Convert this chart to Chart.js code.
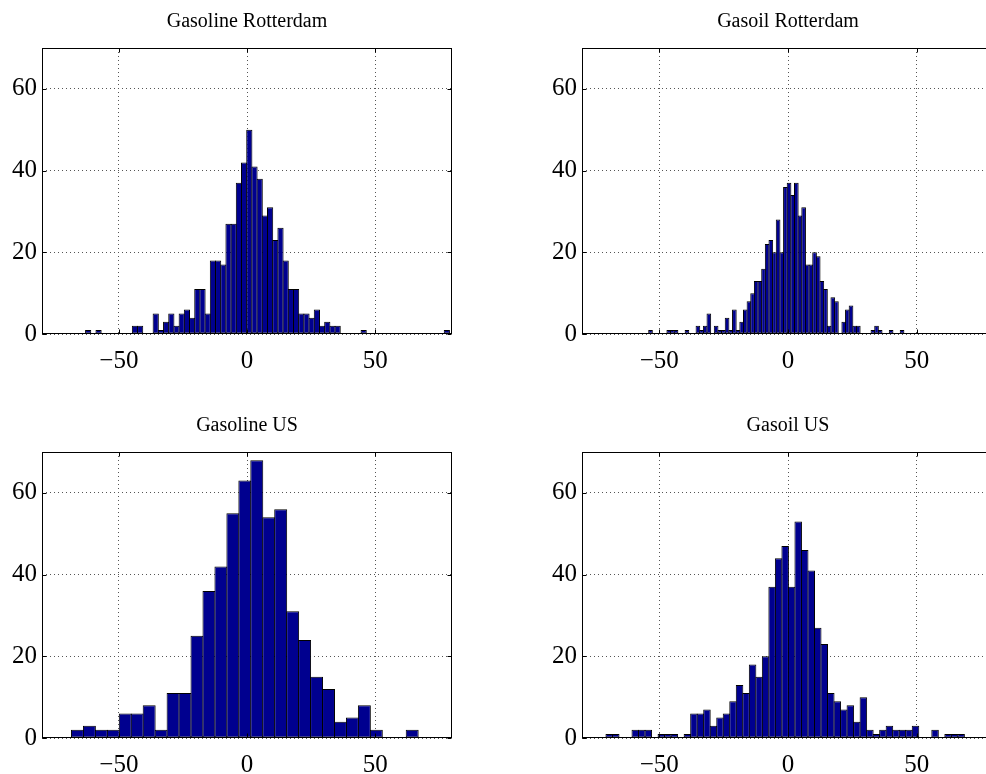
<!DOCTYPE html>
<html>
<head>
<meta charset="utf-8">
<title>Price change histograms</title>
<script src="https://cdn.jsdelivr.net/npm/chart.js@4.4.0/dist/chart.umd.min.js"></script>
<style>
    html, body { margin: 0; padding: 0; background: #fff; overflow: hidden; width: 986px; height: 774px; position: relative; }
    canvas { position: absolute; }
</style>
</head>
<body>
<canvas id="gasolineRot" width="494" height="390" style="left:0px;top:0px;width:494px;height:390px"></canvas>
<canvas id="gasoilRot" width="496" height="390" style="left:540px;top:0px;width:496px;height:390px"></canvas>
<canvas id="gasolineUS" width="494" height="390" style="left:0px;top:404px;width:494px;height:390px"></canvas>
<canvas id="gasoilUS" width="496" height="390" style="left:540px;top:404px;width:496px;height:390px"></canvas>
<script>
// ===== DATA =====
const xTicks = [-50, 0, 50];
const yTicks = [0, 20, 40, 60];
const xRange = [-80, 80];
const yRange = [0, 70];

// Gasoline Rotterdam: 70 bins
const gasolineRotTitle = 'Gasoline Rotterdam';
const gasolineRotEdges = [-63.0, 79.0];
const gasolineRotCounts = [
    1, 0, 1, 0, 0, 0, 0, 0, 0, 2,
    2, 0, 0, 5, 1, 3, 5, 2, 5, 6,
    4, 11, 11, 5, 18, 18, 17, 27, 27, 37,
    42, 50, 41, 38, 29, 31, 23, 26, 18, 11,
    11, 5, 5, 4, 6, 2, 3, 2, 2, 0,
    0, 0, 0, 1, 0, 0, 0, 0, 0, 0,
    0, 0, 0, 0, 0, 0, 0, 0, 0, 1
];

// Gasoil Rotterdam: 70 bins
const gasoilRotTitle = 'Gasoil Rotterdam';
const gasoilRotEdges = [-54.1, 45.0];
const gasoilRotCounts = [
    1, 0, 0, 0, 0, 1, 1, 1, 0, 0,
    1, 0, 0, 2, 1, 2, 5, 0, 2, 1,
    1, 4, 1, 6, 1, 3, 6, 8, 10, 13,
    13, 16, 22, 23, 20, 28, 20, 36, 37, 34,
    37, 29, 31, 17, 17, 20, 19, 13, 11, 2,
    9, 8, 0, 3, 6, 7, 2, 2, 0, 0,
    0, 1, 2, 1, 0, 0, 1, 0, 0, 1
];

// Gasoline US: 29 bins
const gasolineUSTitle = 'Gasoline US';
const gasolineUSEdges = [-68.5, 66.8];
const gasolineUSCounts = [
    2, 3, 2, 2, 6, 6, 8, 2, 11, 11,
    25, 36, 42, 55, 63, 68, 54, 56, 31, 24,
    15, 12, 4, 5, 8, 2, 0, 0, 2
];

// Gasoil US: 55 bins
const gasoilUSTitle = 'Gasoil US';
const gasoilUSEdges = [-70.7, 68.5];
const gasoilUSCounts = [
    1, 1, 0, 0, 2, 2, 2, 0, 1, 1,
    1, 0, 1, 6, 6, 7, 3, 5, 6, 9,
    13, 11, 18, 15, 20, 37, 44, 47, 37, 53,
    46, 41, 27, 23, 11, 9, 7, 8, 4, 10,
    2, 1, 2, 3, 2, 2, 2, 3, 0, 0,
    2, 0, 1, 1, 1
];

// ===== STYLE =====
const FONT = "'Liberation Serif', 'Times New Roman', Times, serif";
const BAR_FILL = '#00008F';
const GRID_COLOR = '#555';

// MATLAB-like box with inward tick marks
const axesBoxPlugin = {
    id: 'axesBox',
    afterDraw(chart) {
        const { ctx, chartArea: a, scales } = chart;
        const L = Math.round(a.left) + 0.5, R = Math.round(a.right) - 0.5;
        const T = Math.round(a.top) + 0.5, B = Math.round(a.bottom) - 0.5;
        const len = 4;
        ctx.save();
        ctx.strokeStyle = '#000';
        ctx.lineWidth = 1;
        ctx.strokeRect(L, T, R - L, B - T);
        ctx.beginPath();
        xTicks.forEach(v => {
            const x = Math.round(scales.x.getPixelForValue(v)) + 0.5;
            ctx.moveTo(x, B); ctx.lineTo(x, B - len);
            ctx.moveTo(x, T); ctx.lineTo(x, T + len);
        });
        yTicks.forEach(v => {
            const y = Math.round(scales.y.getPixelForValue(v)) + 0.5;
            ctx.moveTo(L, y); ctx.lineTo(L + len, y);
            ctx.moveTo(R, y); ctx.lineTo(R - len, y);
        });
        ctx.stroke();
        ctx.restore();
    }
};

function tickLabel(v) {
    return v < 0 ? '\u2212' + Math.abs(v) : String(v);
}

function makeHistogram(canvasId, title, edges, counts) {
    const binWidth = (edges[1] - edges[0]) / counts.length;
    const points = counts.map((c, i) => ({ x: edges[0] + binWidth * (i + 0.5), y: c }));

    return new Chart(document.getElementById(canvasId), {
        type: 'bar',
        data: {
            datasets: [{
                data: points,
                backgroundColor: BAR_FILL,
                borderColor: '#000',
                borderWidth: 1,
                borderSkipped: false,
                categoryPercentage: 1,
                // widen each bar by 1px so neighbouring outlines overlap into one line
                barPercentage: (ctx) => {
                    const xs = ctx.chart.scales.x;
                    const w = Math.abs(xs.getPixelForValue(binWidth) - xs.getPixelForValue(0));
                    return (w + 1) / w;
                }
            }]
        },
        options: {
            responsive: false,
            animation: false,
            devicePixelRatio: 1,
            layout: { padding: { left: 0, right: 42, top: 0, bottom: 0 } },
            plugins: {
                legend: { display: false },
                tooltip: { enabled: false },
                title: {
                    display: true,
                    text: title,
                    fullSize: false,
                    color: '#000',
                    font: { family: FONT, size: 20, weight: 'normal' },
                    padding: { top: 10, bottom: 14 }
                }
            },
            scales: {
                x: {
                    type: 'linear',
                    min: xRange[0],
                    max: xRange[1],
                    offset: false,
                    afterBuildTicks: (s) => { s.ticks = xTicks.map(v => ({ value: v })); },
                    afterFit: (s) => { s.height = 56; },
                    grid: { color: GRID_COLOR, lineWidth: 1, drawTicks: false, offset: false },
                    border: { display: false, dash: [1, 3] },
                    ticks: {
                        color: '#000',
                        font: { family: FONT, size: 25 },
                        padding: 12,
                        maxRotation: 0,
                        autoSkip: false,
                        callback: tickLabel
                    }
                },
                y: {
                    min: yRange[0],
                    max: yRange[1],
                    afterBuildTicks: (s) => { s.ticks = yTicks.map(v => ({ value: v })); },
                    afterFit: (s) => { s.width = 42; },
                    grid: { color: GRID_COLOR, lineWidth: 1, drawTicks: false },
                    border: { display: false, dash: [1, 3] },
                    ticks: {
                        color: '#000',
                        font: { family: FONT, size: 25 },
                        padding: 5,
                        callback: tickLabel
                    }
                }
            }
        },
        plugins: [axesBoxPlugin]
    });
}

// ===== INIT =====
makeHistogram('gasolineRot', gasolineRotTitle, gasolineRotEdges, gasolineRotCounts);
makeHistogram('gasoilRot', gasoilRotTitle, gasoilRotEdges, gasoilRotCounts);
makeHistogram('gasolineUS', gasolineUSTitle, gasolineUSEdges, gasolineUSCounts);
makeHistogram('gasoilUS', gasoilUSTitle, gasoilUSEdges, gasoilUSCounts);
</script>
</body>
</html>
